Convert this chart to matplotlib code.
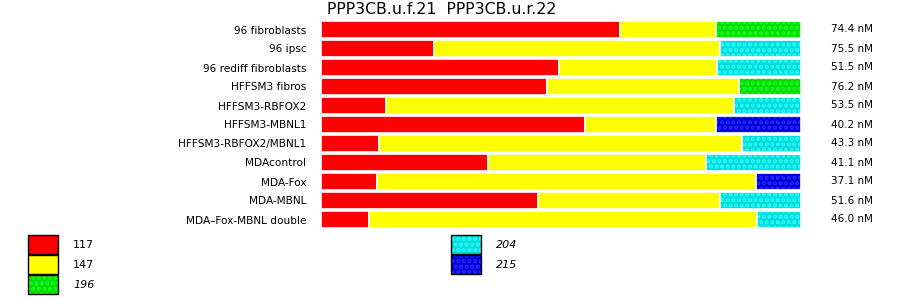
import matplotlib
matplotlib.use('Agg')
import matplotlib.pyplot as plt
from matplotlib.patches import Rectangle
import numpy as np

# samples, top -> bottom
samples = ['96 fibroblasts', '96 ipsc', '96 rediff fibroblasts', 'HFFSM3 fibros',
           'HFFSM3-RBFOX2', 'HFFSM3-MBNL1', 'HFFSM3-RBFOX2/MBNL1', 'MDAcontrol',
           'MDA-Fox', 'MDA-MBNL', 'MDA\u2013Fox-MBNL double']
totals = ['74.4 nM', '75.5 nM', '51.5 nM', '76.2 nM', '53.5 nM', '40.2 nM',
          '43.3 nM', '41.1 nM', '37.1 nM', '51.6 nM', '46.0 nM']
# fraction of each isoform (product size) per sample
frac_117 = [0.622, 0.236, 0.496, 0.471, 0.136, 0.550, 0.121, 0.348, 0.116, 0.453, 0.099]
frac_147 = [0.200, 0.595, 0.329, 0.400, 0.725, 0.273, 0.757, 0.454, 0.790, 0.379, 0.810]
frac_third = [0.178, 0.169, 0.175, 0.129, 0.139, 0.177, 0.122, 0.198, 0.094, 0.168, 0.091]
third_size = ['196', '204', '204', '196', '204', '215', '204', '204', '215', '204', '204']

# size -> (fill, dot colour)
styles = {'117': ('#ff0000', None), '147': ('#ffff00', None),
          '196': ('#00dd00', '#22f822'), '204': ('#00dddd', '#33f8f8'),
          '215': ('#0000dd', '#2a2af8')}
HATCH = '...'

plt.rcParams['hatch.linewidth'] = 2.0
fig = plt.figure(figsize=(9.0, 2.99), dpi=100)
ax = fig.add_axes([321/900, 1 - 229/299, 480/900, 209/299])

y = np.arange(len(samples))
h = 0.9
left = np.zeros(len(samples))
for vals, sizes in [(frac_117, ['117'] * 11), (frac_147, ['147'] * 11), (frac_third, third_size)]:
    for i, (v, s) in enumerate(zip(vals, sizes)):
        fc, dot = styles[s]
        if dot:
            ax.barh(y[i], v, left=left[i], height=h, color=fc, edgecolor=dot,
                    linewidth=0, hatch=HATCH)
            ax.barh(y[i], v, left=left[i], height=h, color='none', edgecolor='white',
                    linewidth=1.2)
        else:
            ax.barh(y[i], v, left=left[i], height=h, color=fc, edgecolor='white', linewidth=1.2)
    left += np.array(vals)

ax.set_xlim(0, 1)
ax.set_ylim(len(samples) - 0.5, -0.5)
ax.set_yticks(y)
ax.set_yticklabels(samples, fontsize=7.6)
ax.tick_params(axis='y', length=0, pad=10.5)
ax.set_xticks([])
for sp in ax.spines.values():
    sp.set_visible(False)

for i, t in enumerate(totals):
    ax.text(1.15, y[i], t, ha='right', va='center', fontsize=7.5,
            transform=ax.get_yaxis_transform())

fig.text(442/900, 1 - 10/299, 'PPP3CB.u.f.21  PPP3CB.u.r.22', ha='center', va='center',
         fontsize=11.3)

# legend, drawn by hand in two columns
leg_sizes = ['117', '147', '196', '204', '215']
leg_italic = [False, False, True, True, True]
leg_pos = [(28, 235), (28, 255), (28, 275), (451, 235), (451, 255)]
for s, it, (px, py) in zip(leg_sizes, leg_italic, leg_pos):
    fc, dot = styles[s]
    xy = (px/900, 1 - (py + 19)/299)
    w, hh = 30/900, 19/299
    if dot:
        fig.add_artist(Rectangle(xy, w, hh, transform=fig.transFigure, facecolor=fc,
                                 edgecolor=dot, linewidth=0, hatch=HATCH))
        fig.add_artist(Rectangle(xy, w, hh, transform=fig.transFigure, facecolor='none',
                                 edgecolor='black', linewidth=1.0))
    else:
        fig.add_artist(Rectangle(xy, w, hh, transform=fig.transFigure, facecolor=fc,
                                 edgecolor='black', linewidth=1.0))
    fig.text((px + 45)/900, 1 - (py + 10)/299, s, ha='left', va='center', fontsize=8,
             style='italic' if it else 'normal')

fig.savefig('out.png', dpi=100)
